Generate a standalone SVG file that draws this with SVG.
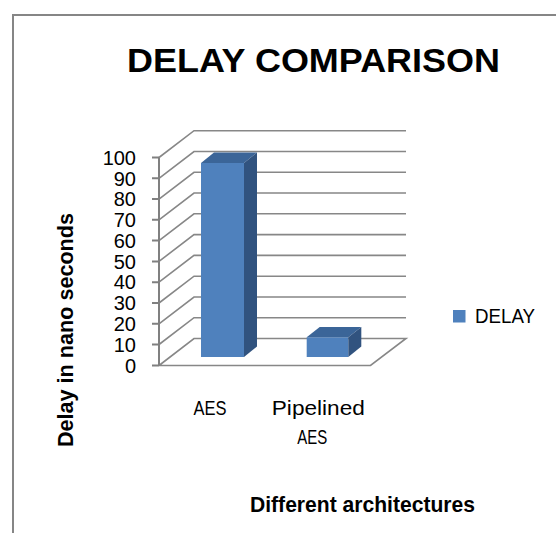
<svg xmlns="http://www.w3.org/2000/svg" width="556" height="533" viewBox="0 0 556 533">
<style>
.grid{stroke:#878787;stroke-width:1.6;fill:none}
.tick{stroke:#808080;stroke-width:2;fill:none}
.t{font-family:"Liberation Sans",Arial,sans-serif;fill:#000}
.b{font-weight:bold}
.front{fill:#4F81BD}
.top{fill:#3B6598}
.side{fill:#31537F}
</style>
<rect x="0" y="0" width="556" height="533" fill="#fff"/>
<path d="M13 533 V15 H556" stroke="#868686" stroke-width="2" fill="none"/>
<text id="title" class="t b" x="313.5" y="72.3" font-size="33.5" text-anchor="middle" textLength="373" lengthAdjust="spacingAndGlyphs">DELAY COMPARISON</text>
<g id="grid">
<path class="grid" d="M159 157.5 L194 130.7 H406 M159 178.3 L194 151.5 H406 M159 199.1 L194 172.3 H406 M159 219.8 L194 193 H406 M159 240.6 L194 213.8 H406 M159 261.4 L194 234.6 H406 M159 282.2 L194 255.4 H406 M159 303 L194 276.2 H406 M159 323.8 L194 297 H406 M159 344.5 L194 317.7 H406 M159 365.5 L194 338.5 H406 L370.5 365.5 H159"/>
<path class="tick" d="M159 157.5 V365.5 M152 157.5 H159 M152 178.3 H159 M152 199.1 H159 M152 219.8 H159 M152 240.6 H159 M152 261.4 H159 M152 282.2 H159 M152 303 H159 M152 323.8 H159 M152 344.5 H159 M152 365.5 H159"/>
</g>
<g id="ylabels" class="t" font-size="20" text-anchor="end">
<text x="136" y="164.7">100</text>
<text x="136" y="185.5">90</text>
<text x="136" y="206.3">80</text>
<text x="136" y="227">70</text>
<text x="136" y="247.8">60</text>
<text x="136" y="268.6">50</text>
<text x="136" y="289.4">40</text>
<text x="136" y="310.2">30</text>
<text x="136" y="331">20</text>
<text x="136" y="351.7">10</text>
<text x="136" y="372.7">0</text>
</g>
<g id="bar-aes">
<rect class="front" x="201" y="163" width="43" height="194"/>
<polygon class="top" points="201,163 244,163 257,152.5 214,152.5"/>
<polygon class="side" points="244,163 257,152.5 257,346.5 244,357"/>
</g>
<g id="bar-pipelined">
<rect class="front" x="306.7" y="337.3" width="41.6" height="19.7"/>
<polygon class="top" points="306.7,337.3 348.3,337.3 361.3,327 319.7,327"/>
<polygon class="side" points="348.3,337.3 361.3,327 361.3,346.5 348.3,357"/>
</g>
<g id="xlabels" class="t" text-anchor="middle">
<text x="210" y="415" font-size="20" textLength="33" lengthAdjust="spacingAndGlyphs">AES</text>
<text x="318.3" y="415" font-size="21" textLength="93" lengthAdjust="spacingAndGlyphs">Pipelined</text>
<text x="312.3" y="444.3" font-size="20" textLength="30" lengthAdjust="spacingAndGlyphs">AES</text>
</g>
<text id="ytitle" class="t b" font-size="22" text-anchor="middle" transform="translate(72.5,330) rotate(-90)" textLength="234" lengthAdjust="spacingAndGlyphs">Delay in nano seconds</text>
<text id="xtitle" class="t b" x="250" y="512.3" font-size="21.5" textLength="225" lengthAdjust="spacingAndGlyphs">Different architectures</text>
<g id="legend">
<rect class="front" x="453" y="310" width="12.5" height="12.5"/>
<text class="t" x="475" y="323.3" font-size="21" textLength="60" lengthAdjust="spacingAndGlyphs">DELAY</text>
</g>
</svg>
